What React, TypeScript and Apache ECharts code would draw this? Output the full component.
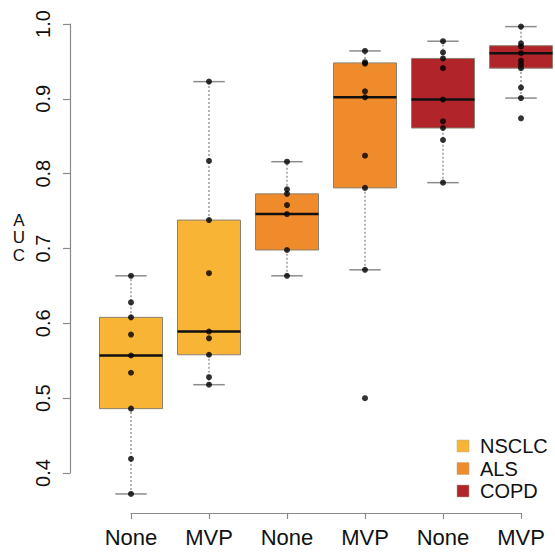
import React, { useEffect, useRef } from "react";
import * as echarts from "echarts";

const categories = ["None", "MVP", "None", "MVP", "None", "MVP"];
const groupX = [1, 2, 3, 4, 5, 6];
const diseases = ["NSCLC", "ALS", "COPD"];
const diseaseColors = ["#F8B535", "#F08B2B", "#B0242A"];
const groupDisease = [0, 0, 1, 1, 2, 2];

const lowerWhisker = [0.372, 0.518, 0.6635, 0.6715, 0.788, 0.901];
const q1 = [0.486, 0.558, 0.698, 0.781, 0.861, 0.941];
const median = [0.557, 0.589, 0.746, 0.902, 0.899, 0.961];
const q3 = [0.608, 0.738, 0.773, 0.948, 0.954, 0.971];
const upperWhisker = [0.6635, 0.923, 0.816, 0.964, 0.977, 0.9965];

const points = [
  [0.6635, 0.628, 0.608, 0.585, 0.557, 0.534, 0.486, 0.419, 0.372],
  [0.923, 0.817, 0.738, 0.667, 0.589, 0.58, 0.558, 0.528, 0.518],
  [0.816, 0.779, 0.773, 0.758, 0.746, 0.698, 0.6635],
  [0.964, 0.949, 0.947, 0.91, 0.902, 0.824, 0.781, 0.6715, 0.5],
  [0.977, 0.962, 0.954, 0.941, 0.899, 0.87, 0.861, 0.845, 0.788],
  [0.9965, 0.974, 0.97, 0.961, 0.951, 0.946, 0.941, 0.915, 0.901, 0.874],
];

const yTicks = [0.4, 0.5, 0.6, 0.7, 0.8, 0.9, 1.0];
const yTitleLetters = ["A", "U", "C"];

const FONT = "'Liberation Sans', Arial, Helvetica, sans-serif";

export default function App() {
  const ref = useRef<HTMLDivElement>(null);
  useEffect(() => {
    if (!ref.current) return;
    const chart = echarts.init(ref.current, null, { renderer: "svg" });

    const boxSeries = diseases.map((name, d) => ({
      name,
      type: "custom",
      itemStyle: { color: diseaseColors[d] },
      encode: { x: 0, y: [1, 2, 3, 4, 5] },
      z: 2,
      data: groupX
        .map((x, i) => ({ x, i }))
        .filter(({ i }) => groupDisease[i] === d)
        .map(({ x, i }) => [x, lowerWhisker[i], q1[i], median[i], q3[i], upperWhisker[i]]),
      renderItem: (params: any, api: any) => {
        const x = api.value(0);
        const pLo = api.coord([x, api.value(1)]);
        const pQ1 = api.coord([x, api.value(2)]);
        const pMed = api.coord([x, api.value(3)]);
        const pQ3 = api.coord([x, api.value(4)]);
        const pHi = api.coord([x, api.value(5)]);
        const unit = api.size([1, 0])[0];
        const half = unit * 0.404;
        const cap = half / 2;
        const cx = pMed[0];
        const color = diseaseColors[d];
        return {
          type: "group",
          children: [
            {
              type: "line",
              shape: { x1: cx, y1: pLo[1], x2: cx, y2: pQ1[1] },
              style: { stroke: "#9a9a9a", lineWidth: 1.5, lineDash: [2, 2] },
            },
            {
              type: "line",
              shape: { x1: cx, y1: pQ3[1], x2: cx, y2: pHi[1] },
              style: { stroke: "#9a9a9a", lineWidth: 1.5, lineDash: [2, 2] },
            },
            {
              type: "line",
              shape: { x1: cx - cap, y1: pLo[1], x2: cx + cap, y2: pLo[1] },
              style: { stroke: "#8c8c8c", lineWidth: 1.5 },
            },
            {
              type: "line",
              shape: { x1: cx - cap, y1: pHi[1], x2: cx + cap, y2: pHi[1] },
              style: { stroke: "#8c8c8c", lineWidth: 1.5 },
            },
            {
              type: "rect",
              shape: { x: cx - half, y: pQ3[1], width: half * 2, height: pQ1[1] - pQ3[1] },
              style: { fill: color, stroke: "#8a8070", lineWidth: 1 },
            },
            {
              type: "line",
              shape: { x1: cx - half, y1: pMed[1], x2: cx + half, y2: pMed[1] },
              style: { stroke: "#111", lineWidth: 2.5 },
            },
          ],
        };
      },
    }));

    const scatterData: number[][] = [];
    points.forEach((arr, i) => arr.forEach((v) => scatterData.push([groupX[i], v])));

    const legendGraphics: any[] = [];
    diseases.forEach((name, d) => {
      const cy = 446 + d * 22.5;
      legendGraphics.push({
        type: "rect",
        shape: { x: 457, y: cy - 6, width: 12, height: 12 },
        style: { fill: diseaseColors[d], stroke: "#b0a890", lineWidth: 0.5 },
      });
      legendGraphics.push({
        type: "text",
        x: 480,
        y: cy,
        style: {
          text: name,
          font: `20px ${FONT}`,
          fill: "#111",
          textAlign: "left",
          textVerticalAlign: "middle",
        },
      });
    });

    const titleGraphics = yTitleLetters.map((ch, k) => ({
      type: "text",
      x: 19,
      y: 220 + k * 17.5,
      style: {
        text: ch,
        font: `17px ${FONT}`,
        fill: "#111",
        textAlign: "center",
        textVerticalAlign: "middle",
      },
    }));

    chart.setOption({
      animation: false,
      backgroundColor: "#ffffff",
      grid: {
        left: 131,
        right: 34,
        top: 24,
        bottom: 79,
        containLabel: false,
        outerBoundsMode: "none",
      },
      xAxis: {
        type: "value",
        min: 1,
        max: 6,
        interval: 1,
        offset: 40,
        splitLine: { show: false },
        axisLine: { show: true, lineStyle: { color: "#8a8a8a", width: 1.2 } },
        axisTick: { show: true, length: 6, lineStyle: { color: "#8a8a8a", width: 1.2 } },
        axisLabel: {
          margin: 13,
          fontSize: 22,
          fontFamily: FONT,
          color: "#111",
          formatter: (v: number) => categories[Math.round(v) - 1] ?? "",
        },
      },
      yAxis: {
        type: "value",
        min: yTicks[0],
        max: yTicks[yTicks.length - 1],
        interval: 0.1,
        offset: 61,
        splitLine: { show: false },
        axisLine: { show: true, lineStyle: { color: "#8a8a8a", width: 1.2 } },
        axisTick: { show: true, length: 7, lineStyle: { color: "#8a8a8a", width: 1.2 } },
        axisLabel: {
          rotate: 90,
          margin: 17,
          fontSize: 20,
          fontFamily: FONT,
          color: "#111",
          formatter: (v: number) => v.toFixed(1),
        },
      },
      graphic: [...titleGraphics, ...legendGraphics],
      series: [
        ...boxSeries,
        {
          type: "scatter",
          data: scatterData,
          symbol: "circle",
          symbolSize: 6,
          itemStyle: { color: "#000" },
          z: 5,
          clip: false,
        },
      ],
    });
    return () => chart.dispose();
  }, []);
  return (
    <div
      ref={ref}
      style={{ position: "absolute", left: 0, top: 0, width: 555, height: 552, background: "#fff" }}
    />
  );
}
